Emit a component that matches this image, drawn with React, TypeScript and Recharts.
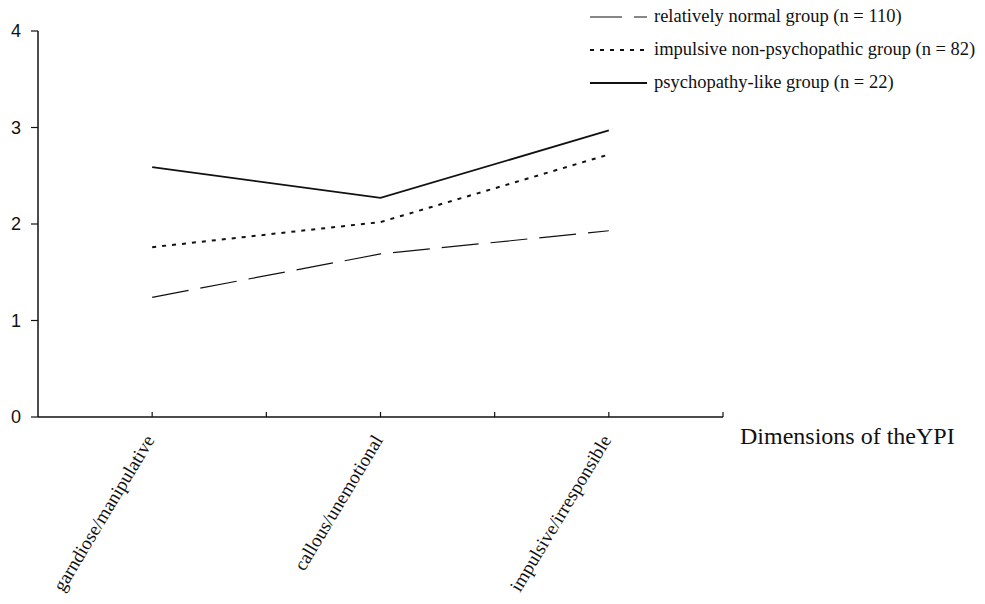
import { LineChart, Line, XAxis, YAxis, Legend } from "recharts";

const categories = ["garndiose/manipulative", "callous/unemotional", "impulsive/irresponsible"];
const categoryPos = [1, 3, 5];
const seriesNames = [
  "relatively normal group (n = 110)",
  "impulsive non-psychopathic group (n = 82)",
  "psychopathy-like group (n = 22)",
];
const normalGroup = [1.24, 1.69, 1.93];
const impulsiveGroup = [1.76, 2.02, 2.72];
const psychopathyGroup = [2.59, 2.27, 2.97];
const yTicks = [0, 1, 2, 3, 4];
const xTicks = [1, 2, 3, 4, 5, 6];

const data = categories.map((name, i) => ({
  pos: categoryPos[i],
  name,
  normal: normalGroup[i],
  impulsive: impulsiveGroup[i],
  psychopathy: psychopathyGroup[i],
}));

const serif = "'Liberation Serif', 'Times New Roman', serif";
const sans = "'Liberation Sans', Arial, sans-serif";
const ink = "#111";

function XTick({ x, y, payload }: any) {
  const idx = categoryPos.indexOf(payload.value);
  const tx = x + 3;
  const ty = y + 23;
  return (
    <g>
      <line x1={x} x2={x} y1={y} y2={y - 5} stroke={ink} strokeWidth={1.2} />
      {idx >= 0 && (
        <text
          x={tx}
          y={ty}
          textAnchor="end"
          transform={`rotate(-59 ${tx} ${ty})`}
          fontFamily={serif}
          fontSize={19}
          fill={ink}
        >
          {categories[idx]}
        </text>
      )}
    </g>
  );
}

function AxisTitle(props: any) {
  const vb = props.viewBox;
  return (
    <text x={vb.x + vb.width + 17} y={vb.y + 27} fontFamily={serif} fontSize={24} fill={ink}>
      Dimensions of theYPI
    </text>
  );
}

function renderLegend(props: any) {
  const items = [...(props.payload || [])].sort(
    (a: any, b: any) => seriesNames.indexOf(a.value) - seriesNames.indexOf(b.value)
  );
  return (
    <div>
      {items.map((entry: any) => {
        const p = entry.payload || {};
        const dashed = p.strokeDasharray === "37 12";
        return (
          <div key={entry.value} style={{ display: "flex", alignItems: "center", height: 33 }}>
            <svg width={57} height={10} style={{ display: "block", flexShrink: 0 }}>
              <line
                x1={0}
                x2={57}
                y1={5}
                y2={5}
                stroke={ink}
                strokeWidth={p.strokeWidth}
                strokeDasharray={dashed ? "32 12" : p.strokeDasharray}
              />
            </svg>
            <span style={{ marginLeft: 7, fontFamily: serif, fontSize: 18.5, color: ink, whiteSpace: "nowrap" }}>
              {entry.value}
            </span>
          </div>
        );
      })}
    </div>
  );
}

export default function App() {
  return (
    <div style={{ height: 588 }}>
      <LineChart width={969} height={596} data={data} margin={{ top: 23, right: 254, left: 0, bottom: 37 }}>
        <XAxis
          dataKey="pos"
          type="number"
          domain={[0, 6]}
          ticks={xTicks}
          interval={0}
          height={150}
          tickSize={0}
          tickMargin={0}
          tickLine={false}
          axisLine={{ stroke: ink, strokeWidth: 1.5 }}
          tick={<XTick />}
          label={{ content: <AxisTitle /> }}
        />
        <YAxis
          domain={[0, 4]}
          ticks={yTicks}
          width={30}
          tickSize={7}
          tickMargin={10}
          axisLine={{ stroke: ink, strokeWidth: 1.5 }}
          tickLine={{ stroke: ink, strokeWidth: 1.2 }}
          tick={{ fill: ink, fontFamily: sans, fontSize: 18 }}
        />
        <Legend
          layout="horizontal"
          verticalAlign="middle"
          align="center"
          content={renderLegend}
          wrapperStyle={{ top: -8, left: 582, width: 385 }}
        />
        <Line
          dataKey="normal"
          name={seriesNames[0]}
          stroke={ink}
          strokeWidth={1.2}
          strokeDasharray="37 12"
          dot={false}
          activeDot={false}
          isAnimationActive={false}
        />
        <Line
          dataKey="impulsive"
          name={seriesNames[1]}
          stroke={ink}
          strokeWidth={2}
          strokeDasharray="4 6"
          dot={false}
          activeDot={false}
          isAnimationActive={false}
        />
        <Line
          dataKey="psychopathy"
          name={seriesNames[2]}
          stroke={ink}
          strokeWidth={1.8}
          dot={false}
          activeDot={false}
          isAnimationActive={false}
        />
      </LineChart>
    </div>
  );
}
